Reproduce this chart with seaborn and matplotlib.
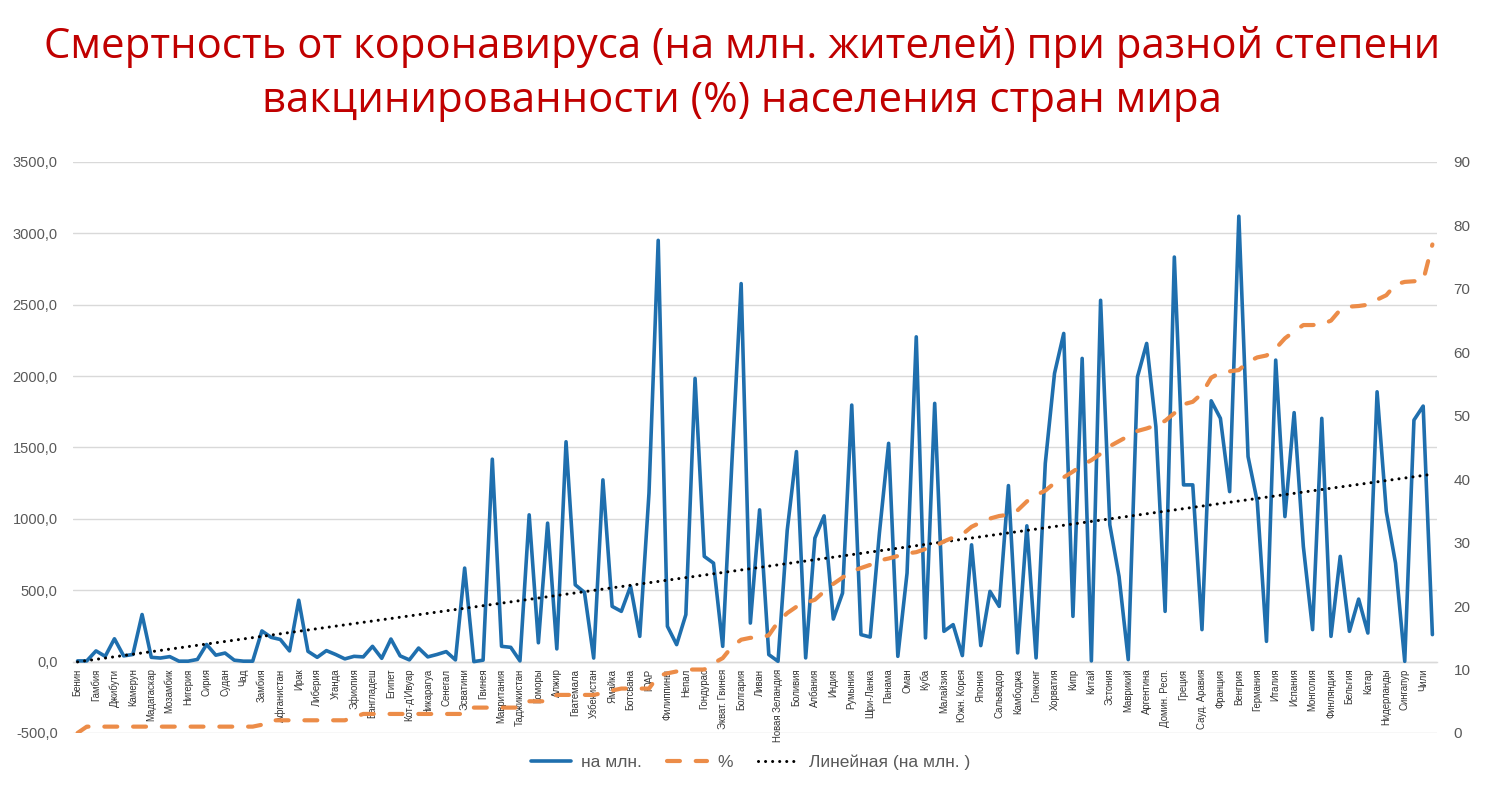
import numpy as np
import pandas as pd
import matplotlib
matplotlib.use("Agg")
import matplotlib.pyplot as plt
import seaborn as sns
from matplotlib.lines import Line2D

# ---------------- data ----------------
countries = ["Бенин", "Гамбия", "Джибути", "Камерун", "Мадагаскар", "Мозамбик", "Нигерия",
             "Сирия", "Судан", "Чад", "Замбия", "Афганистан", "Ирак", "Либерия", "Уганда",
             "Эфиопия", "Бангладеш", "Египет", "Кот-д'Ивуар", "Никарагуа", "Сенегал",
             "Эсватини", "Гвинея", "Мавритания", "Таджикистан", "Коморы", "Алжир",
             "Гватемала", "Узбекистан", "Ямайка", "Ботсвана", "ЮАР", "Филиппины", "Непал",
             "Гондурас", "Экват. Гвинея", "Болгария", "Ливан", "Новая Зеландия", "Боливия",
             "Албания", "Индия", "Румыния", "Шри-Ланка", "Панама", "Оман", "Куба",
             "Малайзия", "Южн. Корея", "Япония", "Сальвадор", "Камбоджа", "Гонконг",
             "Хорватия", "Кипр", "Китай", "Эстония", "Маврикий", "Аргентина",
             "Домин. Респ.", "Греция", "Сауд. Аравия", "Франция", "Венгрия", "Германия",
             "Италия", "Испания", "Монголия", "Финляндия", "Бельгия", "Катар",
             "Нидерланды", "Сингапур", "Чили"]

deaths_per_mln = [5, 5, 75, 37, 160, 40, 50, 330, 30, 25,
                  35, 3, 3, 15, 120, 45, 60, 10, 3, 3,
                  215, 170, 155, 75, 430, 72, 30, 77, 50, 19,
                  37, 33, 107, 23, 158, 40, 12, 95, 33, 50,
                  70, 12, 655, 0, 10, 1418, 107, 100, 5, 1028,
                  132, 970, 89, 1540, 538, 485, 25, 1273, 387, 352,
                  527, 177, 1180, 2951, 247, 119, 329, 1984, 737, 690,
                  107, 1400, 2648, 270, 1063, 49, 2, 920, 1471, 26,
                  865, 1021, 298, 480, 1797, 189, 172, 900, 1529, 37,
                  620, 2275, 166, 1809, 212, 259, 42, 818, 112, 492,
                  387, 1233, 61, 951, 26, 1389, 2019, 2299, 317, 2124,
                  5, 2531, 958, 597, 14, 1995, 2229, 1646, 352, 2834,
                  1238, 1238, 224, 1827, 1704, 1191, 3120, 1436, 1121, 142,
                  2112, 1016, 1744, 806, 224, 1704, 177, 737, 212, 438,
                  200, 1890, 1051, 690, 2, 1692, 1790, 189]

vaccinated_pct = [0, 1, 1, 1, 1, 1, 1, 1, 1, 1,
                  1, 1, 1, 1, 1, 1, 1, 1, 1, 1,
                  1.3, 2, 2, 2, 2, 2, 2, 2, 2, 2,
                  2.5, 3, 3, 3, 3, 3, 3, 3, 3, 3,
                  3, 3, 3, 4, 4, 4, 4, 4, 4, 5,
                  5, 5, 6, 6, 6, 6, 6, 6.3, 6.7, 7,
                  7, 7, 7, 9, 9.4, 9.7, 10, 10, 10, 11,
                  11.8, 13.6, 14.7, 15, 15, 15.4, 17.5, 18.9, 19.9, 20.5,
                  21, 22.3, 23.5, 24.5, 25.5, 26, 26.5, 27.2, 27.5, 27.9,
                  28.3, 28.5, 29, 29.4, 30.2, 30.8, 31.3, 32.5, 33.2, 33.8,
                  34.2, 34.4, 35.1, 36.5, 37.5, 38.2, 39.4, 40.3, 41.2, 42.2,
                  43, 44, 45.2, 46, 46.8, 47.6, 48, 48.5, 49.2, 50.4,
                  51.8, 52.2, 53.5, 56, 56.8, 57, 57.2, 58.5, 59.2, 59.5,
                  60.6, 62.2, 63.3, 64.3, 64.3, 64.4, 65, 66.7, 67.2, 67.3,
                  67.5, 68.3, 69, 70.7, 71.1, 71.2, 71.3, 77]

title_lines = ["Смертность от коронавируса (на млн. жителей) при разной степени",
               "вакцинированности (%) населения стран мира"]
legend_labels = ["на млн.", "%", "Линейная (на млн. )"]

# ---------------- style ----------------
BLUE = "#1f6fae"
ORANGE = "#ec8c48"
GRID = "#d9d9d9"
TICK = "#595959"

sns.set_theme(style="white")
plt.rcParams['font.family'] = ['Liberation Sans', 'DejaVu Sans']

fig = plt.figure(figsize=(14.95, 7.89), dpi=100)
ax = fig.add_axes([0.0488, 0.0710, 0.9124, 0.7237])
ax2 = ax.twinx()

n = len(deaths_per_mln)
df = pd.DataFrame({"idx": np.arange(n), "deaths": deaths_per_mln, "pct": vaccinated_pct})
coef = np.polyfit(df["idx"], df["deaths"], 1)
df["trend"] = np.polyval(coef, df["idx"])

sns.lineplot(data=df, x="idx", y="deaths", ax=ax, color=BLUE, linewidth=2.6, zorder=3)
sns.lineplot(data=df, x="idx", y="trend", ax=ax, color="black", linewidth=2.2,
             linestyle=(0, (0.01, 2.3)), dash_capstyle="round", zorder=4)
sns.lineplot(data=df, x="idx", y="pct", ax=ax2, color=ORANGE, linewidth=3.0,
             linestyle=(0, (3.1, 3.8)), dash_capstyle="round", zorder=3)

ax.set_xlim(-0.5, n - 0.5)
ax.set_ylim(-500, 3500)
ax2.set_ylim(0, 90)

yt = np.arange(-500, 3501, 500)
ax.set_yticks(yt)
ax.set_yticklabels([f"{v:.1f}".replace(".", ",") for v in yt])
ax2.set_yticks(np.arange(0, 91, 10))
ax2.set_yticklabels([str(v) for v in range(0, 91, 10)])

ax.set_xticks(np.arange(0, n, 2))
ax.set_xticklabels(countries)
ax.tick_params(axis="x", length=0, pad=5, labelrotation=90, labelsize=6.9, labelcolor="#333333")
ax.tick_params(axis="y", length=0, pad=11, labelsize=10.5, labelcolor=TICK)
ax2.tick_params(axis="y", length=0, pad=12, labelsize=11, labelcolor=TICK)

ax.yaxis.grid(True, color=GRID, linewidth=1)
ax.set_axisbelow(True)
for a in (ax, ax2):
    for s in ["top", "right", "left", "bottom"]:
        a.spines[s].set_visible(False)
    a.set_xlabel("")
    a.set_ylabel("")
ax.spines["bottom"].set_visible(True)
ax.spines["bottom"].set_position(("data", 0))
ax.spines["bottom"].set_color(GRID)
ax.spines["bottom"].set_linewidth(1)

for i, line in enumerate(title_lines):
    fig.text(0.4965, [0.9265, 0.858][i], line, ha="center", va="baseline",
             color="#c00000", fontsize=30.2, family=['Open Sans', 'DejaVu Sans'])

handles = [Line2D([], [], color=BLUE, lw=2.6),
           Line2D([], [], color=ORANGE, lw=3.0, ls=(0, (3.1, 3.8)), dash_capstyle="round"),
           Line2D([], [], color="black", lw=2.2, ls=(0, (0.01, 2.3)), dash_capstyle="round")]
leg = fig.legend(handles, legend_labels, loc="center", bbox_to_anchor=(0.502, 0.034), ncol=3,
                 frameon=False, fontsize=12.5, handlelength=2.3, handletextpad=0.6,
                 columnspacing=1.45)
for t in leg.get_texts():
    t.set_color(TICK)

fig.savefig("out.png", dpi=100)
